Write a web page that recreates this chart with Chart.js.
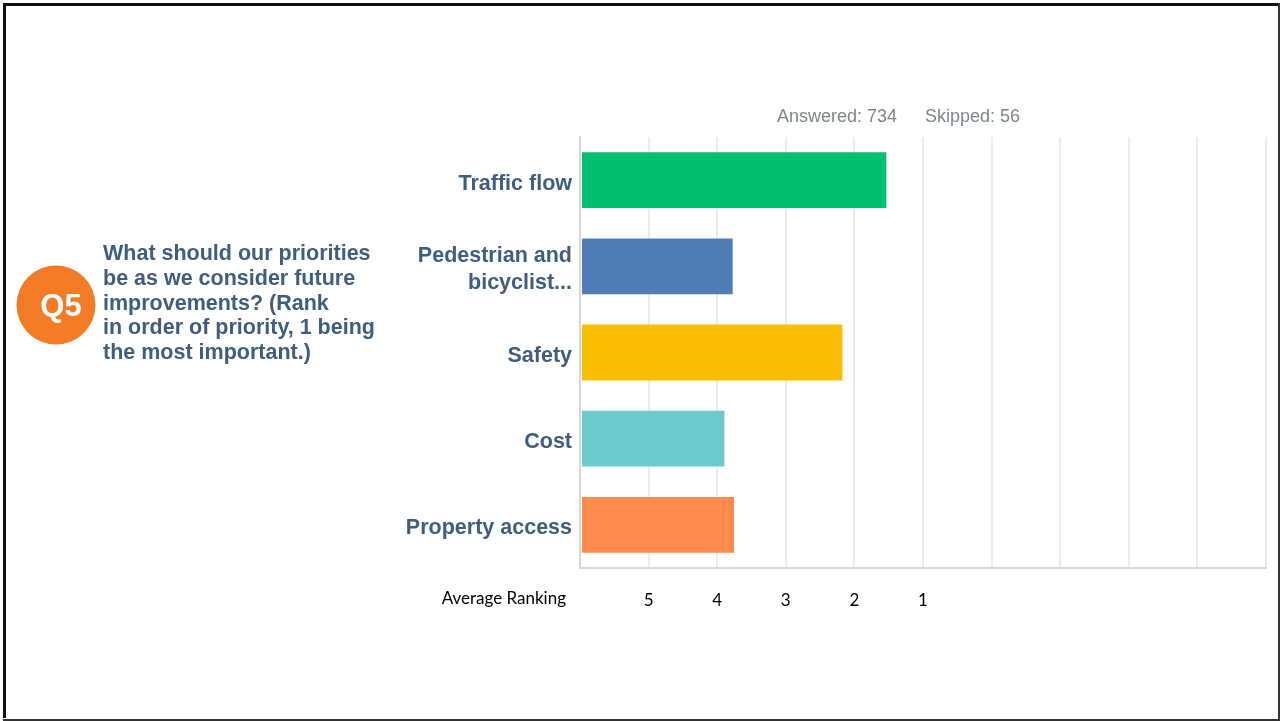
<!DOCTYPE html>
<html>
<head>
<meta charset="utf-8">
<title>Q5 – Average Ranking of Priorities</title>
<script src="https://cdn.jsdelivr.net/npm/chart.js@4.4.1/dist/chart.umd.min.js"></script>
<style>
  html, body { margin: 0; padding: 0; background: #ffffff; }
  #wrap { width: 1281px; height: 721px; position: relative; }
  canvas { display: block; }
</style>
</head>
<body>
<div id="wrap"><canvas id="chart" width="1281" height="721"></canvas></div>
<script>
// Survey question and response counts
const questionNumber = 'Q5';
const questionLines = [
  'What should our priorities',
  'be as we consider future',
  'improvements? (Rank',
  'in order of priority, 1 being',
  'the most important.)'
];
const answeredCount = 734;
const skippedCount = 56;

// Answer choices (bar categories) and their ranking scores
const categories = [
  'Traffic flow',
  ['Pedestrian and', 'bicyclist...'],
  'Safety',
  'Cost',
  'Property access'
];
const scores = [4.48, 2.24, 3.84, 2.12, 2.26];
const barColors = ['#00bf6f', '#507cb6', '#f9be00', '#6bc8cd', '#ff8b4f'];

// Axis tick labels: score positions 1..5 read as rank 5..1
const rankTickLabels = ['5', '4', '3', '2', '1'];
const axisCaption = 'Average Ranking';

const labelColor = '#3f5d7c';

// Slide decorations: frame, question badge, question text, counts, axis caption
const slidePlugin = {
  id: 'slideDecor',
  beforeDraw(chart) {
    const ctx = chart.ctx;
    ctx.save();
    ctx.fillStyle = '#ffffff';
    ctx.fillRect(0, 0, chart.width, chart.height);
    ctx.restore();
  },
  afterDraw(chart) {
    const ctx = chart.ctx;
    const area = chart.chartArea;
    ctx.save();

    // frame
    ctx.fillStyle = '#111111';
    ctx.fillRect(3, 3, 3, 715);
    ctx.fillRect(3, 3, 1276, 3);
    ctx.fillStyle = '#333333';
    ctx.fillRect(1278, 3, 2, 717);
    ctx.fillRect(3, 719, 1277, 2);

    // question badge
    ctx.fillStyle = '#f47b25';
    ctx.beginPath();
    ctx.arc(56, 305, 39.5, 0, Math.PI * 2);
    ctx.fill();
    ctx.fillStyle = '#ffffff';
    ctx.font = 'bold 31px "Liberation Sans", Arial, sans-serif';
    ctx.textAlign = 'center';
    ctx.textBaseline = 'alphabetic';
    ctx.fillText(questionNumber, 61, 316);

    // question text
    ctx.fillStyle = labelColor;
    ctx.font = 'bold 21.5px "Liberation Sans", Arial, sans-serif';
    ctx.textAlign = 'left';
    ctx.textBaseline = 'middle';
    questionLines.forEach((line, i) => {
      ctx.fillText(line, 103, 254 + i * 24.8);
    });

    // response counts above the plot
    ctx.fillStyle = '#7b868f';
    ctx.font = '18px "Liberation Sans", Arial, sans-serif';
    ctx.textBaseline = 'middle';
    ctx.fillText('Answered: ' + answeredCount, 777, area.top - 20);
    ctx.fillText('Skipped: ' + skippedCount, 925, area.top - 20);

    // x-axis caption to the left of the tick labels
    ctx.fillStyle = '#000000';
    ctx.font = '17px Lato, "Open Sans", sans-serif';
    ctx.textAlign = 'right';
    ctx.fillText(axisCaption, area.left - 14, area.bottom + 31);

    ctx.restore();
  }
};

new Chart(document.getElementById('chart'), {
  type: 'bar',
  data: {
    labels: categories,
    datasets: [{
      data: scores,
      backgroundColor: barColors,
      borderColor: 'rgba(255,255,255,0.3)',
      borderWidth: 1,
      borderSkipped: false,
      categoryPercentage: 1.0,
      barPercentage: 0.67
    }]
  },
  options: {
    indexAxis: 'y',
    responsive: false,
    animation: false,
    devicePixelRatio: 1,
    layout: { padding: { left: 0, top: 137, right: 15, bottom: 103 } },
    plugins: {
      legend: { display: false },
      tooltip: { enabled: false },
      title: { display: false }
    },
    scales: {
      x: {
        type: 'linear',
        min: 0,
        max: 10,
        afterFit(scale) {
          scale.height = 50;
          scale.paddingLeft = 0;
          scale.paddingRight = 0;
        },
        grid: {
          color: '#ebebeb',
          lineWidth: 2,
          drawTicks: false
        },
        border: { display: true, color: '#d6d6d6', width: 2 },
        ticks: {
          stepSize: 1,
          autoSkip: false,
          maxRotation: 0,
          padding: 22,
          color: '#000000',
          font: { family: 'Lato, "Open Sans", sans-serif', size: 17 },
          callback(value) {
            const idx = Math.round(value) - 1;
            return (idx >= 0 && idx < rankTickLabels.length) ? rankTickLabels[idx] : '';
          }
        }
      },
      y: {
        afterFit(scale) { scale.width = 580; },
        grid: { display: false, drawTicks: false },
        border: { display: true, color: '#d6d6d6', width: 2 },
        ticks: {
          padding: 8,
          labelOffset: 3.5,
          color: labelColor,
          font: { family: '"Liberation Sans", Arial, sans-serif', size: 21.5, weight: 'bold', lineHeight: 1.25 }
        }
      }
    }
  },
  plugins: [slidePlugin]
});
</script>
</body>
</html>
